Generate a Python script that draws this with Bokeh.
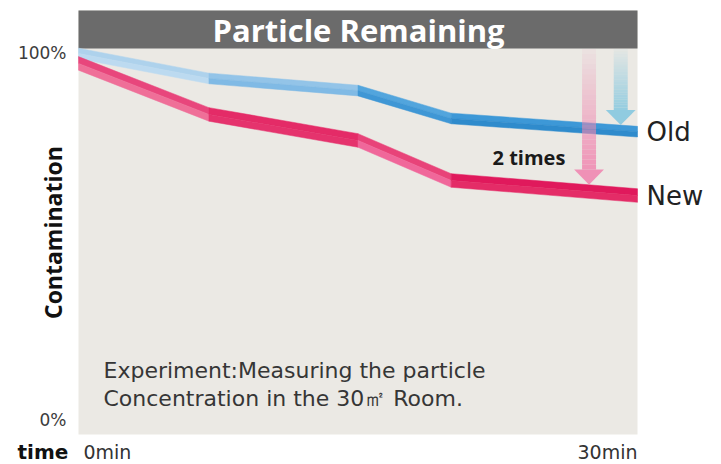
import numpy as np
from bokeh.plotting import figure
from bokeh.models import Range1d, Label, BoxAnnotation
from bokeh.embed import file_html
from bokeh.resources import INLINE

# ---- data ----
time_min = [0, 7, 15, 20, 30]
old_pct = [100.0, 93.2, 89.9, 82.3, 78.7]
new_pct = [97.3, 83.4, 76.3, 65.4, 61.3]
y_ticks = [0, 100]
y_tick_labels = ["0%", "100%"]
x_ticks = [0, 30]
x_tick_labels = ["0min", "30min"]
series_names = ["Old", "New"]

# The frame covers the whole canvas; the grey plotting panel is drawn as a box.
p = figure(width=721, height=464, x_range=Range1d(-4.186, 34.508), y_range=Range1d(-11.99, 114.44),
           output_backend="svg", toolbar_location=None, min_border=0)
p.background_fill_color = "white"
p.border_fill_color = "white"
p.outline_line_color = None
p.grid.visible = False
p.axis.visible = False

# grey panel and title bar
p.add_layout(BoxAnnotation(left=x_ticks[0], right=x_ticks[1], bottom=-3.82, top=111.72,
                           fill_color="#ebe9e4", fill_alpha=1.0, line_color=None, level="underlay"))
p.add_layout(BoxAnnotation(left=x_ticks[0], right=x_ticks[1], bottom=101.36, top=111.72,
                           fill_color="#6b6b6b", fill_alpha=1.0, line_color=None, level="underlay"))
p.add_layout(Label(x=15.03, y=106.5, text="Particle Remaining", text_align="center",
                   text_baseline="middle", text_color="white", text_font="Open Sans",
                   text_font_style="bold", text_font_size="31px"))


def ribbon(ts, vs, h, up_cols, lo_cols):
    xs, ys, cols = [], [], []
    for i in range(len(ts) - 1):
        x0, x1, v0, v1 = ts[i], ts[i + 1], vs[i], vs[i + 1]
        xs.append([x0, x1, x1, x0]); ys.append([v0 + h, v1 + h, v1, v0]); cols.append(up_cols[i])
        xs.append([x0, x1, x1, x0]); ys.append([v0, v1, v1 - h, v0 - h]); cols.append(lo_cols[i])
    p.patches(xs, ys, fill_color=cols, line_color=cols, line_width=0.5)


ribbon(time_min, old_pct, 1.45,
       ["#aed2ec", "#93c4e8", "#52a5dd", "#3d98d7"],
       ["#bcdaf0", "#80bae5", "#3f97d5", "#2f8bcc"])
ribbon(time_min, new_pct, 1.85,
       ["#e8467c", "#e42b67", "#e84379", "#e0195c"],
       ["#ef6f98", "#e5336d", "#f0679a", "#e42c67"])


def grad_arrow(xc, v_top, v_tip, color, shaft_w=0.75, head_hw=0.8, head_len=4.1, n=24):
    v_head = v_tip + head_len
    edges = np.linspace(v_top, v_head, n + 1)
    alphas = np.linspace(0.08, 0.85, n)
    p.quad(left=xc - shaft_w / 2, right=xc + shaft_w / 2, top=edges[:-1], bottom=edges[1:],
           fill_color=color, fill_alpha=alphas, line_color=None)
    p.patch([xc - head_hw, xc + head_hw, xc], [v_head, v_head, v_tip],
            fill_color=color, fill_alpha=0.9, line_color=None)


x_new_arrow = 27.4
x_old_arrow = 29.1
grad_arrow(x_old_arrow, 101.2, float(np.interp(x_old_arrow, time_min, old_pct)) + 1.5, "#86c8df")
grad_arrow(x_new_arrow, 101.2, float(np.interp(x_new_arrow, time_min, new_pct)) + 1.9, "#f087b0")

# y tick labels
for t, lab in zip(y_ticks, y_tick_labels):
    p.add_layout(Label(x=-0.644, y=t, text=lab, text_align="right", text_baseline="middle",
                       text_font="DejaVu Sans", text_font_size="17px", text_color="#3c3c3c"))

# series labels
p.add_layout(Label(x=time_min[-1], y=old_pct[-1], x_offset=9, text=series_names[0],
                   text_baseline="middle", text_font="DejaVu Sans", text_font_size="26px",
                   text_color="#222222"))
p.add_layout(Label(x=time_min[-1], y=new_pct[-1], x_offset=9, text=series_names[1],
                   text_baseline="middle", text_font="DejaVu Sans", text_font_size="26px",
                   text_color="#222222"))
p.add_layout(Label(x=22.22, y=71.7, text="2 times", text_baseline="middle",
                   text_font="Open Sans", text_font_style="bold", text_font_size="20px",
                   text_color="#1a1a1a"))

p.add_layout(Label(x=1.342, y=13.6, text="Experiment:Measuring the particle", text_baseline="middle",
                   text_font="DejaVu Sans", text_font_size="22px", text_color="#363636"))
p.add_layout(Label(x=1.342, y=6.0, text="Concentration in the 30\u33a1 Room.", text_baseline="middle",
                   text_font="DejaVu Sans", text_font_size="22px", text_color="#363636"))

p.add_layout(Label(x=-1.342, y=51.2, text="Contamination", angle=np.pi / 2, text_align="center",
                   text_baseline="middle", text_font="Open Sans", text_font_style="bold",
                   text_font_size="23px", text_color="#111111"))
p.add_layout(Label(x=-3.274, y=-8.72, text="time", text_baseline="middle", text_font="DejaVu Sans",
                   text_font_style="bold", text_font_size="20px", text_color="#111111"))
p.add_layout(Label(x=x_ticks[0], y=-8.72, x_offset=5, text=x_tick_labels[0], text_baseline="middle",
                   text_font="DejaVu Sans", text_font_size="19px", text_color="#333333"))
p.add_layout(Label(x=x_ticks[1], y=-8.72, text=x_tick_labels[1], text_align="right",
                   text_baseline="middle", text_font="DejaVu Sans", text_font_size="19px",
                   text_color="#333333"))

open("out.html", "w").write(file_html(p, INLINE))
